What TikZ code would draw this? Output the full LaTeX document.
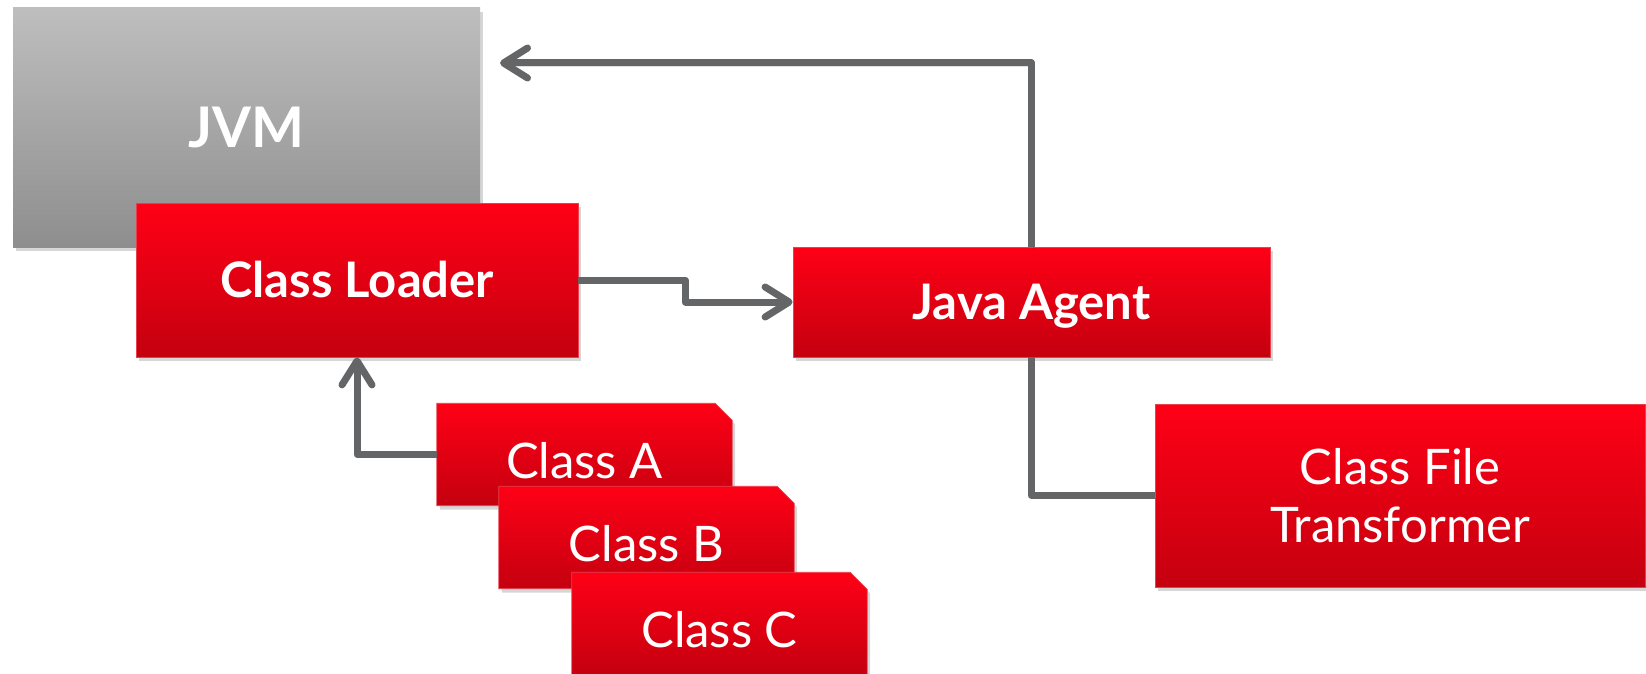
\documentclass[tikz,border=0pt]{standalone}
\usepackage{fontspec}
\setmainfont{Lato}
\usetikzlibrary{arrows.meta,shadows,calc}

\definecolor{redtop}{HTML}{FF0016}
\definecolor{redbot}{HTML}{C4000F}
\definecolor{redrim}{HTML}{E8404C}
\definecolor{greytop}{HTML}{BEBEBE}
\definecolor{greybot}{HTML}{8E8E8E}
\definecolor{wirecol}{HTML}{646567}

\pgfdeclarelayer{paper}
\pgfdeclarelayer{cards}
\pgfsetlayers{paper,cards,main}

\tikzset{
  softshadow/.style={drop shadow={shadow xshift=3pt,shadow yshift=-4pt,fill=black,opacity=0.16}},
  panel/.style={rectangle, inner sep=0pt, text=white, softshadow},
  redpanel/.style={panel, top color=redtop, bottom color=redbot, draw=redrim, line width=0.8pt},
  boldlabel/.style={font=\bfseries\fontsize{49}{58}\selectfont, text height=35pt, text depth=0pt},
  card/.style={rectangle, inner sep=0pt, text=white, minimum width=295pt, minimum height=102pt,
    font=\fontsize{49}{58}\selectfont, text height=47pt, text depth=0pt},
  cardfill/.style={top color=redtop, bottom color=redbot, draw=redrim, line width=0.8pt, softshadow},
  wire/.style={draw=wirecol, line width=7pt, line join=round,
    preaction={draw=black, opacity=0.12, transform canvas={shift={(1.5pt,-3pt)}}}},
  tip/.style={-{Straight Barb[length=24pt,width=30pt,line cap=round,line join=round]}},
}

% cut-corner card drawn beneath the node that carries its name and text
\newcommand\cardshape[1]{%
  \path[cardfill] (#1.south west) -- (#1.north west) -- ([xshift=-17pt]#1.north east)
    -- ([yshift=-17pt]#1.north east) -- (#1.south east) -- cycle;}

\begin{document}
\begin{tikzpicture}[x=1pt,y=-1pt]
\path[use as bounding box] (0,0) rectangle (1646,674);
\begin{pgfonlayer}{paper}
  \fill[white] (0,0) rectangle (1646,674);
\end{pgfonlayer}

% JVM and class loader
\node[panel, top color=greytop, bottom color=greybot, minimum width=467pt, minimum height=239pt,
  font=\bfseries\fontsize{56}{60}\selectfont, text height=40pt, text depth=0pt] (jvm) at (246.5,127.5) {JVM};
\node[redpanel, boldlabel, minimum width=442pt, minimum height=154pt] (loader) at (357,280) {Class Loader};

% agent and transformer
\node[redpanel, boldlabel, minimum width=477pt, minimum height=110pt] (agent) at (1031.5,302) {Java Agent};
\node[redpanel, font=\fontsize{49}{58}\selectfont, align=center, minimum width=490pt, minimum height=183pt]
  (transformer) at (1400,495.5) {Class File\\Transformer};

% stacked class cards
\node[card] (classA) at (584.5,454.5) {Class A};
\node[card] (classB) at (646.5,537.5) {Class B};
\node[card] (classC) at (719.5,623.5) {Class C};
\begin{pgfonlayer}{cards}
  \cardshape{classA}
  \cardshape{classB}
  \cardshape{classC}
\end{pgfonlayer}

% connectors
\coordinate (jvmin) at (500,63);
\draw[wire, tip] (classA.west) -| (loader.south);
\draw[wire, tip] (loader.east) -| ($(loader.east)!0.5!(agent.west)$) |- (agent.west);
\draw[wire, tip] (agent.north) |- (jvmin);
\draw[wire] (agent.south) |- (transformer.west);
\end{tikzpicture}
\end{document}
